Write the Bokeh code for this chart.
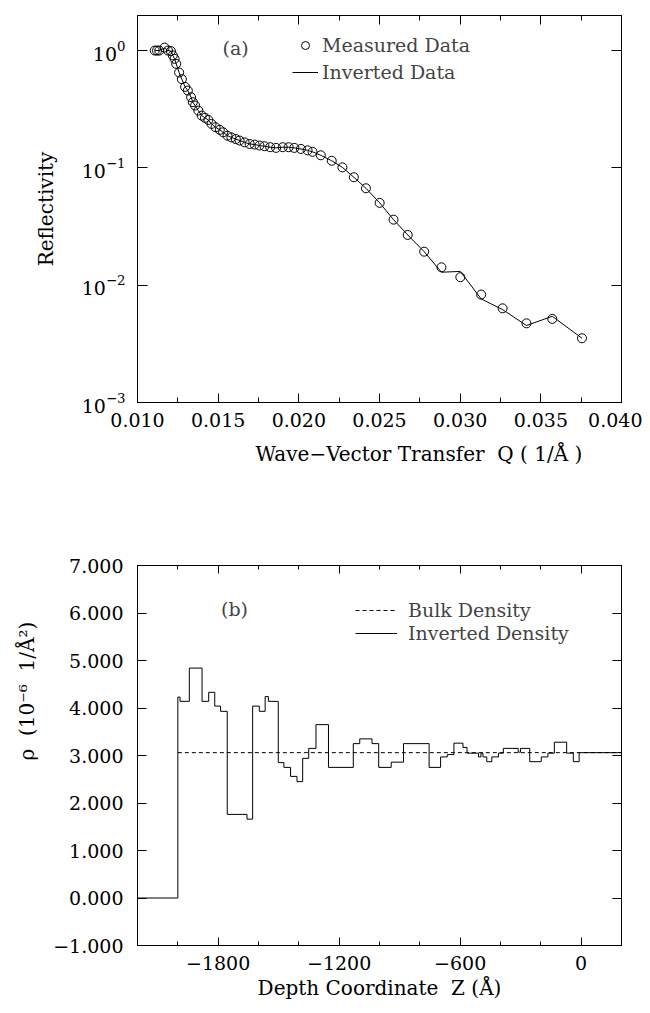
from bokeh.plotting import figure
from bokeh.models import (Range1d, LinearAxis, LogAxis, FixedTicker, Label, Legend,
                          LegendItem, NumeralTickFormatter, CustomJSTickFormatter, Title)
from bokeh.layouts import column
from bokeh.embed import file_html
from bokeh.resources import INLINE

# ---------------- data: panel (a) ----------------
q_measured = [0.01107, 0.01121, 0.01135, 0.01168, 0.01189, 0.01207, 0.01219, 0.01230,
              0.01240, 0.01258, 0.01275, 0.01295, 0.01312, 0.01332, 0.01343, 0.01357,
              0.01377, 0.01398, 0.01418, 0.01439, 0.01459, 0.01484, 0.01510, 0.01531,
              0.01558, 0.01582, 0.01609, 0.01633, 0.01664, 0.01695, 0.01726, 0.01756,
              0.01787, 0.01822, 0.01859, 0.01900, 0.01937, 0.01972, 0.02013, 0.02054,
              0.02085, 0.02136, 0.02204, 0.02270, 0.02341, 0.02416, 0.02501, 0.02587,
              0.02675, 0.02777, 0.02884, 0.03001, 0.03130, 0.03263, 0.03411, 0.03571,
              0.03755]
r_measured = [1.00, 1.00, 1.00, 1.06, 1.00, 0.99, 0.91, 0.85, 0.77, 0.65, 0.57, 0.49,
              0.456, 0.40, 0.363, 0.34, 0.308, 0.279, 0.267, 0.256, 0.237, 0.222, 0.211,
              0.201, 0.188, 0.182, 0.176, 0.171, 0.165, 0.160, 0.158, 0.155, 0.153, 0.150,
              0.148, 0.150, 0.150, 0.148, 0.145, 0.141, 0.137, 0.128, 0.115, 0.101, 0.0832,
              0.067, 0.0503, 0.0362, 0.0268, 0.0193, 0.0142, 0.0117, 0.00832, 0.00635,
              0.00473, 0.00516, 0.00353]
r_inverted = [1.00, 1.00, 1.00, 1.05, 1.00, 0.99, 0.91, 0.85, 0.77, 0.65, 0.57, 0.49,
              0.456, 0.40, 0.363, 0.34, 0.308, 0.279, 0.267, 0.256, 0.237, 0.222, 0.211,
              0.201, 0.188, 0.182, 0.176, 0.171, 0.165, 0.160, 0.158, 0.155, 0.153, 0.150,
              0.148, 0.150, 0.150, 0.148, 0.145, 0.141, 0.137, 0.128, 0.115, 0.101, 0.0832,
              0.067, 0.0503, 0.0362, 0.0268, 0.0193, 0.0129, 0.0131, 0.00764, 0.00619,
              0.00453, 0.00543, 0.00353]

q_major_ticks = [0.010, 0.015, 0.020, 0.025, 0.030, 0.035, 0.040]
q_minor_ticks = [0.0125, 0.0175, 0.0225, 0.0275, 0.0325, 0.0375]
r_ticks = [0.001, 0.01, 0.1, 1.0]

# ---------------- data: panel (b) ----------------
z_edges = [-2200, -2000, -1989, -1943, -1880, -1847, -1817, -1788, -1755, -1657, -1629,
           -1596, -1567, -1551, -1502, -1474, -1441, -1409, -1381, -1351, -1315, -1253,
           -1130, -1098, -1037, -1004, -942, -881, -754, -697, -664, -631, -586, -566,
           -509, -497, -487, -468, -443, -410, -386, -312, -301, -255, -198, -165, -133,
           -72, -39, -10, 200]
rho_values = [0.0, 4.23, 4.14, 4.84, 4.14, 4.33, 4.04, 3.93, 1.76, 1.66, 4.04, 3.93,
              4.24, 4.14, 2.85, 2.75, 2.56, 2.45, 2.94, 3.15, 3.65, 2.75, 3.25, 3.35,
              3.25, 2.75, 2.86, 3.25, 2.75, 2.97, 3.02, 3.26, 3.17, 3.05, 2.97, 3.05,
              2.97, 2.87, 2.97, 3.05, 3.15, 3.07, 3.15, 2.87, 2.97, 3.05, 3.28, 3.05,
              2.87, 3.06]
bulk_z = [-2000, 200]
bulk_rho = [3.06, 3.06]

z_major_ticks = [-1800, -1200, -600, 0]
z_minor_ticks = [-2000, -1600, -1400, -1000, -800, -400, -200]
rho_ticks = [-1, 0, 1, 2, 3, 4, 5, 6, 7]

FONT = "DejaVu Serif"
TICK_FS = "19px"
LEG_FS = "19px"
LAB_FS = "20px"


def style_axis(ax, tin, mtin, standoff, hide_labels=False):
    ax.major_tick_in = tin
    ax.major_tick_out = 0
    ax.minor_tick_in = mtin
    ax.minor_tick_out = 0
    ax.axis_line_color = "black"
    ax.major_tick_line_color = "black"
    ax.minor_tick_line_color = "black"
    ax.major_label_text_font = FONT
    ax.major_label_text_font_size = TICK_FS
    ax.major_label_text_color = "black"
    ax.major_label_standoff = standoff
    ax.axis_label_text_font = FONT
    ax.axis_label_text_font_size = LAB_FS
    ax.axis_label_text_font_style = "normal"
    ax.axis_label_text_color = "black"
    if hide_labels:
        ax.major_label_text_font_size = "1px"
        ax.major_label_text_color = None
        ax.major_label_standoff = 0


def make_title(text, align, offset, standoff):
    return Title(text=text, align=align, offset=offset, standoff=standoff,
                 text_font=FONT, text_font_size=LAB_FS, text_font_style="normal",
                 text_color="black")


# ================= panel (a) =================
p1 = figure(width=642, height=528, x_range=Range1d(0.010, 0.040),
            y_range=Range1d(0.001, 1.99), y_axis_type="log",
            output_backend="svg", toolbar_location=None,
            min_border_left=132, min_border_right=21, min_border_top=15,
            min_border_bottom=126)
p1.xgrid.visible = False
p1.ygrid.visible = False
p1.outline_line_color = "black"

xt1 = FixedTicker(ticks=q_major_ticks, minor_ticks=q_minor_ticks)
yt1 = FixedTicker(ticks=r_ticks, minor_ticks=[])
p1.xaxis.ticker = xt1
p1.xaxis.formatter = NumeralTickFormatter(format="0.000")
p1.yaxis.ticker = yt1
style_axis(p1.xaxis[0], 9, 5, 10)
style_axis(p1.yaxis[0], 10, 0, 12)
p1.yaxis.axis_label = "Reflectivity"
p1.yaxis.axis_label_standoff = 21

top1 = LinearAxis(ticker=xt1)
style_axis(top1, 9, 5, 0, hide_labels=True)
p1.add_layout(top1, "above")
right1 = LogAxis(ticker=yt1)
style_axis(right1, 10, 0, 0, hide_labels=True)
p1.add_layout(right1, "right")

line_a = p1.line(q_measured, r_inverted, line_color="black", line_width=1)
pts_a = p1.scatter(q_measured, r_measured, marker="circle", size=9,
                   line_color="black", fill_color=None, line_width=1)

leg1 = Legend(items=[LegendItem(label="Measured Data", renderers=[pts_a]),
                     LegendItem(label="Inverted Data", renderers=[line_a])],
              location=(155, 319), padding=0, margin=0, spacing=5,
              glyph_width=26, glyph_height=20, label_height=20, label_standoff=4,
              label_text_font=FONT, label_text_font_size=LEG_FS,
              border_line_color=None, background_fill_alpha=0)
p1.add_layout(leg1, "center")

p1.add_layout(Label(x=0.01608, y=1.06, text="(a)", text_align="center",
                    text_baseline="middle", text_font=FONT, text_font_size=LEG_FS))
p1.add_layout(make_title("Wave\u2212Vector Transfer\u00a0\u00a0Q ( 1/\u00c5 )",
                         "left", 118, 20), "below")

# ================= panel (b) =================
p2 = figure(width=642, height=484, x_range=Range1d(-2200, 200),
            y_range=Range1d(-1, 7), output_backend="svg", toolbar_location=None,
            min_border_left=137, min_border_right=16, min_border_top=37,
            min_border_bottom=67)
p2.xgrid.visible = False
p2.ygrid.visible = False
p2.outline_line_color = "black"

xt2 = FixedTicker(ticks=z_major_ticks, minor_ticks=z_minor_ticks)
yt2 = FixedTicker(ticks=rho_ticks, minor_ticks=[])
p2.xaxis.ticker = xt2
p2.yaxis.ticker = yt2
p2.yaxis.formatter = CustomJSTickFormatter(
    code="return (tick < 0 ? '\u2212' : '') + Math.abs(tick).toFixed(3);")
style_axis(p2.xaxis[0], 8, 4, 10)
style_axis(p2.yaxis[0], 9, 0, 14)

top2 = LinearAxis(ticker=xt2)
style_axis(top2, 8, 4, 0, hide_labels=True)
p2.add_layout(top2, "above")
right2 = LinearAxis(ticker=yt2)
style_axis(right2, 9, 0, 0, hide_labels=True)
p2.add_layout(right2, "right")

bulk = p2.line(bulk_z, bulk_rho, line_color="black", line_width=1, line_dash="4 3")
step = p2.step(z_edges, rho_values + [rho_values[-1]], mode="after",
               line_color="black", line_width=1)

leg2 = Legend(items=[LegendItem(label="Bulk Density", renderers=[bulk]),
                     LegendItem(label="Inverted Density", renderers=[step])],
              location=(218, 301), padding=0, margin=0, spacing=1,
              glyph_width=42, glyph_height=18, label_height=18, label_standoff=11,
              label_text_font=FONT, label_text_font_size=LEG_FS,
              border_line_color=None, background_fill_alpha=0)
p2.add_layout(leg2, "center")

p2.add_layout(Label(x=-1719, y=6.09, text="(b)", text_align="center",
                    text_baseline="middle", text_font=FONT, text_font_size=LEG_FS))
p2.add_layout(make_title("Depth Coordinate\u00a0\u00a0Z (\u00c5)", "center", 0, 2),
              "below")
p2.add_layout(make_title("\u03c1\u00a0\u00a0(10\u207b\u2076\u00a0\u00a01/\u00c5\u00b2)",
                         "left", 185, 24), "left")

layout = column(p1, p2)
open("out.html", "w").write(file_html(layout, INLINE))
